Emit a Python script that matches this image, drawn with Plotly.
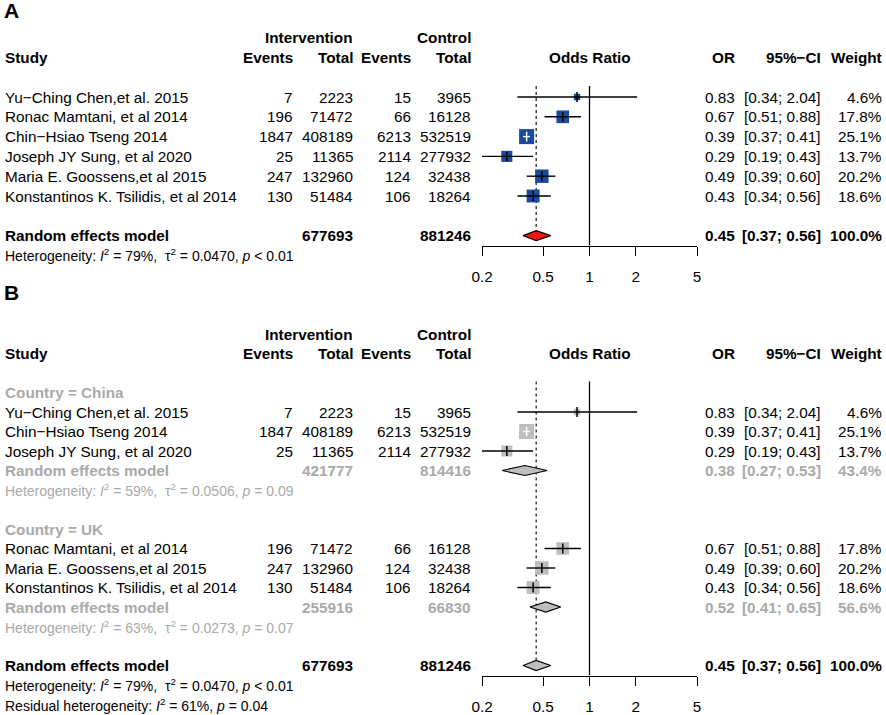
import math
import plotly.graph_objects as go

W, H = 886, 715
FONT = "Liberation Sans, Arial, Helvetica, sans-serif"
FS = 15.3

# ---------------- data ----------------
study_names = ["Yu\u2212Ching Chen,et al. 2015", "Ronac Mamtani, et al 2014",
               "Chin\u2212Hsiao Tseng 2014", "Joseph JY Sung, et al 2020",
               "Maria E. Goossens,et al 2015", "Konstantinos K. Tsilidis, et al 2014"]
ev_int = [7, 196, 1847, 25, 247, 130]
tot_int = [2223, 71472, 408189, 11365, 132960, 51484]
ev_ctl = [15, 66, 6213, 2114, 124, 106]
tot_ctl = [3965, 16128, 532519, 277932, 32438, 18264]
or_est = [0.83, 0.67, 0.39, 0.29, 0.49, 0.43]
ci_lo = [0.34, 0.51, 0.37, 0.19, 0.39, 0.34]
ci_hi = [2.04, 0.88, 0.41, 0.43, 0.60, 0.56]
weight = [4.6, 17.8, 25.1, 13.7, 20.2, 18.6]

# overall random effects model
re_or, re_lo, re_hi, re_w = 0.45, 0.37, 0.56, 100.0
re_tot_int, re_tot_ctl = 677693, 881246

# subgroups (panel B)
sub_labels = ["Country = China", "Country = UK"]
sub_members = [[0, 2, 3], [1, 4, 5]]
sub_or = [0.38, 0.52]
sub_lo = [0.27, 0.41]
sub_hi = [0.53, 0.65]
sub_w = [43.4, 56.6]
sub_tot_int = [421777, 255916]
sub_tot_ctl = [814416, 66830]

# heterogeneity statistics: (I2 %, tau2, p-text)
het_overall = (79, "0.0470", "&lt; 0.01")
het_sub = [(59, "0.0506", "= 0.09"), (63, "0.0273", "= 0.07")]
resid_het = (61, "= 0.04")

tick_vals = [0.2, 0.5, 1, 2, 5]
tick_text = ["0.2", "0.5", "1", "2", "5"]

# ---------------- layout constants ----------------
BLUE = "#1a4a9f"
GREY_SQ = "#bebebe"
GREY_TXT = "#a9a9a9"
RED = "#f01414"

X_STUDY, X_EV1, X_TOT1, X_EV2, X_TOT2 = 3, 295, 355, 413, 473
X_OR, X_CI, X_W = 737, 823, 884
FX0, FX1 = 482, 697           # pixel extent of forest axis (0.2 .. 5)
X_CENTER = (FX0 + FX1) / 2
PX_PER_DEC = (FX1 - FX0) / (math.log10(5) - math.log10(0.2))
SQ_K = 3.0

A_ROW1, A_STEP = 97.0, 19.8
B_ROW1, B_STEP = 392.5, 19.5
AX_OFF = 10      # axis line below summary row (px)
TOP_OFF = 11     # reference lines start above first row (px)

fig = go.Figure()
ann = []


def T(xpx, row, yref, text, anchor="right", bold=False, color="black", size=FS):
    if bold:
        text = "<b>" + text + "</b>"
    ann.append(dict(x=xpx / W, xref="paper", y=row, yref=yref, text=text,
                    showarrow=False, xanchor=anchor, yanchor="middle",
                    font=dict(family=FONT, size=size, color=color)))


def het_text(h):
    return ("Heterogeneity: <i>I</i><sup>2</sup> = %d%%,  \u03c4<sup>2</sup> = %s, <i>p</i> %s"
            % (h[0], h[1], h[2]))


def headers(yref, r_top):
    T(X_TOT1, r_top - 1, yref, "Intervention", bold=True)
    T(X_TOT2, r_top - 1, yref, "Control", bold=True)
    T(X_STUDY, r_top, yref, "Study", anchor="left", bold=True)
    T(X_EV1, r_top, yref, "Events", bold=True)
    T(X_TOT1, r_top, yref, "Total", bold=True)
    T(X_EV2, r_top, yref, "Events", bold=True)
    T(X_TOT2, r_top, yref, "Total", bold=True)
    T(X_CENTER, r_top, yref, "Odds Ratio", anchor="center", bold=True)
    T(X_OR, r_top, yref, "OR", bold=True)
    T(X_CI, r_top, yref, "95%\u2212CI", bold=True)
    T(X_W, r_top, yref, "Weight", bold=True)


def study_rows(idx, rows, yref, xa, ya, sq_color):
    for i, r in zip(idx, rows):
        T(X_STUDY, r, yref, study_names[i], anchor="left")
        T(X_EV1, r, yref, str(ev_int[i]))
        T(X_TOT1, r, yref, str(tot_int[i]))
        T(X_EV2, r, yref, str(ev_ctl[i]))
        T(X_TOT2, r, yref, str(tot_ctl[i]))
        T(X_OR, r, yref, "%.2f" % or_est[i])
        T(X_CI, r, yref, "[%.2f; %.2f]" % (ci_lo[i], ci_hi[i]))
        T(X_W, r, yref, "%.1f%%" % weight[i])
    sizes = [SQ_K * math.sqrt(weight[i]) for i in idx]
    fig.add_trace(go.Scatter(x=[or_est[i] for i in idx], y=rows, xaxis=xa, yaxis=ya,
                             mode="markers", hoverinfo="skip",
                             marker=dict(symbol="square", size=sizes, color=sq_color,
                                         opacity=1, line=dict(width=0))))
    for i, r, s in zip(idx, rows, sizes):
        ci_px = (math.log10(ci_hi[i]) - math.log10(ci_lo[i])) * PX_PER_DEC
        col = "white" if ci_px < s else "black"
        fig.add_trace(go.Scatter(x=[ci_lo[i], ci_hi[i]], y=[r, r], xaxis=xa, yaxis=ya,
                                 mode="lines", hoverinfo="skip",
                                 line=dict(color=col, width=1.4)))
        fig.add_trace(go.Scatter(x=[or_est[i]], y=[r], xaxis=xa, yaxis=ya,
                                 mode="markers", hoverinfo="skip",
                                 marker=dict(symbol="line-ns", size=7,
                                             line=dict(color=col, width=1.5))))


def diamond(est, lo, hi, r, step, xa, ya, fill):
    h = 5.0 / step
    fig.add_trace(go.Scatter(x=[lo, est, hi, est, lo], y=[r, r - h, r, r + h, r],
                             xaxis=xa, yaxis=ya, mode="lines", fill="toself",
                             fillcolor=fill, hoverinfo="skip",
                             line=dict(color="black", width=1.2)))


def ref_lines(r_top, r_axis, r_re, step, xa, ya):
    top = r_top - TOP_OFF / step
    fig.add_trace(go.Scatter(x=[1, 1], y=[top, r_axis], xaxis=xa, yaxis=ya,
                             mode="lines", hoverinfo="skip",
                             line=dict(color="black", width=1.3)))
    fig.add_trace(go.Scatter(x=[re_or, re_or], y=[top, r_re], xaxis=xa, yaxis=ya,
                             mode="lines", hoverinfo="skip",
                             line=dict(color="black", width=1.1, dash="dot")))


# ---------------- Panel A ----------------
rowsA = [1, 2, 3, 4, 5, 6]
reA = 8
axisA_row = reA + AX_OFF / A_STEP
headers("y", -1)
ref_lines(1, axisA_row, reA, A_STEP, "x", "y")
study_rows(list(range(6)), rowsA, "y", "x", "y", BLUE)
diamond(re_or, re_lo, re_hi, reA, A_STEP, "x", "y", RED)
T(X_STUDY, reA, "y", "Random effects model", anchor="left", bold=True)
T(X_TOT1, reA, "y", str(re_tot_int), bold=True)
T(X_TOT2, reA, "y", str(re_tot_ctl), bold=True)
T(X_OR, reA, "y", "%.2f" % re_or, bold=True)
T(X_CI, reA, "y", "[%.2f; %.2f]" % (re_lo, re_hi), bold=True)
T(X_W, reA, "y", "%.1f%%" % re_w, bold=True)
T(X_STUDY, reA + 1, "y", het_text(het_overall), anchor="left", size=14)
ann.append(dict(x=2 / W, xref="paper", y=1 - 11 / H, yref="paper", text="<b>A</b>",
                showarrow=False, xanchor="left", yanchor="middle",
                font=dict(family=FONT, size=21, color="black")))

# ---------------- Panel B ----------------
sub_start = [1, 8]
reB = 15
axisB_row = reB + AX_OFF / B_STEP
headers("y2", -1)
ref_lines(1, axisB_row, reB, B_STEP, "x2", "y2")
for g in range(2):
    r0 = sub_start[g]
    T(X_STUDY, r0, "y2", sub_labels[g], anchor="left", bold=True, color=GREY_TXT)
    rows = [r0 + 1 + k for k in range(len(sub_members[g]))]
    study_rows(sub_members[g], rows, "y2", "x2", "y2", GREY_SQ)
    rr = rows[-1] + 1
    diamond(sub_or[g], sub_lo[g], sub_hi[g], rr, B_STEP, "x2", "y2", GREY_SQ)
    T(X_STUDY, rr, "y2", "Random effects model", anchor="left", bold=True, color=GREY_TXT)
    T(X_TOT1, rr, "y2", str(sub_tot_int[g]), bold=True, color=GREY_TXT)
    T(X_TOT2, rr, "y2", str(sub_tot_ctl[g]), bold=True, color=GREY_TXT)
    T(X_OR, rr, "y2", "%.2f" % sub_or[g], bold=True, color=GREY_TXT)
    T(X_CI, rr, "y2", "[%.2f; %.2f]" % (sub_lo[g], sub_hi[g]), bold=True, color=GREY_TXT)
    T(X_W, rr, "y2", "%.1f%%" % sub_w[g], bold=True, color=GREY_TXT)
    T(X_STUDY, rr + 1, "y2", het_text(het_sub[g]), anchor="left", color=GREY_TXT, size=14)

diamond(re_or, re_lo, re_hi, reB, B_STEP, "x2", "y2", GREY_SQ)
T(X_STUDY, reB, "y2", "Random effects model", anchor="left", bold=True)
T(X_TOT1, reB, "y2", str(re_tot_int), bold=True)
T(X_TOT2, reB, "y2", str(re_tot_ctl), bold=True)
T(X_OR, reB, "y2", "%.2f" % re_or, bold=True)
T(X_CI, reB, "y2", "[%.2f; %.2f]" % (re_lo, re_hi), bold=True)
T(X_W, reB, "y2", "%.1f%%" % re_w, bold=True)
T(X_STUDY, reB + 1, "y2", het_text(het_overall), anchor="left", size=14)
T(X_STUDY, reB + 2, "y2",
  "Residual heterogeneity: <i>I</i><sup>2</sup> = %d%%, <i>p</i> %s" % resid_het,
  anchor="left", size=14)
ann.append(dict(x=2 / W, xref="paper", y=1 - 293 / H, yref="paper", text="<b>B</b>",
                showarrow=False, xanchor="left", yanchor="middle",
                font=dict(family=FONT, size=21, color="black")))

# ---------------- axes ----------------
def xaxis_cfg(pos_px):
    return dict(type="log", range=[math.log10(0.2), math.log10(5)],
                domain=[FX0 / W, FX1 / W], anchor="free", position=1 - pos_px / H,
                tickvals=tick_vals, ticktext=tick_text, ticks="outside", ticklen=9,
                tickwidth=1, tickcolor="black", showline=True, linecolor="black",
                linewidth=1, showgrid=False, zeroline=False, ticklabelstandoff=8,
                tickfont=dict(family=FONT, size=FS, color="black"))

axA_px = A_ROW1 + (axisA_row - 1) * A_STEP
axB_px = B_ROW1 + (axisB_row - 1) * B_STEP
xa2 = xaxis_cfg(axB_px)
xa2["overlaying"] = "x"

fig.update_layout(
    width=W, height=H, margin=dict(l=0, r=0, t=0, b=0, autoexpand=False),
    paper_bgcolor="white", plot_bgcolor="white", showlegend=False,
    xaxis=xaxis_cfg(axA_px), xaxis2=xa2,
    yaxis=dict(domain=[0, 1], range=[1 + (H - A_ROW1) / A_STEP, 1 - A_ROW1 / A_STEP],
               visible=False, showgrid=False, zeroline=False),
    yaxis2=dict(domain=[0, 1], range=[1 + (H - B_ROW1) / B_STEP, 1 - B_ROW1 / B_STEP],
                overlaying="y", visible=False, showgrid=False, zeroline=False),
    annotations=ann,
)

fig.write_html("out.html", config={"displayModeBar": False},
               post_script="document.body.style.margin='0px';"
                           "document.body.style.overflow='hidden';")
